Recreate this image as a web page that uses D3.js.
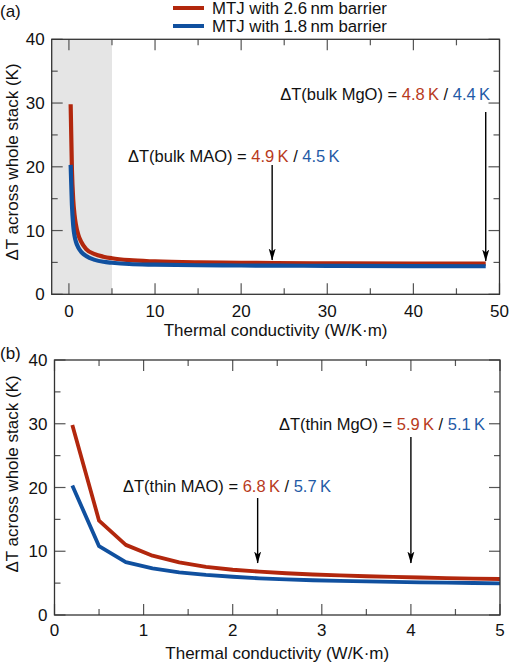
<!DOCTYPE html>
<html><head><meta charset="utf-8">
<script src="https://cdn.jsdelivr.net/npm/d3@7"></script>
<style>body{margin:0;background:#fff}svg{display:block;font-family:"Liberation Sans",Arial,sans-serif}</style>
</head><body>
<svg id="c" width="509" height="663"></svg>
<script>
// ---- data ----
const seriesNames = ["MTJ with 2.6\u2009nm barrier", "MTJ with 1.8\u2009nm barrier"];
const seriesColors = ["#b2270d", "#10509f"];
// panel (a): bulk, 0-50 W/K·m
const kA = [0.2, 0.35, 0.5, 0.65, 0.8, 1.1, 1.4, 2, 3, 4, 5, 7, 10, 15, 20, 24, 30, 40, 48.4];
const dtA_26 = [29.8, 19.5, 14.8, 12.5, 11.0, 9.3, 8.3, 7.1, 6.3, 5.9, 5.65, 5.35, 5.15, 5.0, 4.95, 4.9, 4.86, 4.82, 4.8];
const dtA_18 = [20.3, 14.0, 10.8, 9.2, 8.3, 7.3, 6.7, 6.0, 5.4, 5.1, 4.95, 4.75, 4.65, 4.56, 4.52, 4.5, 4.46, 4.42, 4.4];
// panel (b): thin film, 0-5 W/K·m
const kB = [0.2, 0.5, 0.8, 1.1, 1.4, 1.7, 2.0, 2.3, 2.6, 2.9, 3.2, 3.5, 3.8, 4.1, 4.4, 4.7, 5.0];
const dtB_26 = [29.8, 14.8, 11.0, 9.3, 8.25, 7.55, 7.1, 6.8, 6.55, 6.35, 6.2, 6.08, 5.97, 5.88, 5.8, 5.72, 5.65];
const dtB_18 = [20.3, 10.8, 8.3, 7.3, 6.7, 6.3, 6.0, 5.75, 5.58, 5.45, 5.35, 5.27, 5.2, 5.13, 5.07, 5.02, 4.97];
const xTicksA = [0, 10, 20, 30, 40, 50];
const xTicksB = [0, 1, 2, 3, 4, 5];
const yTicks = [0, 10, 20, 30, 40];
const annotA = [
  {label: "ΔT(bulk MgO) = ", v1: "4.8\u2009K", v2: "4.4\u2009K", k: 48.4},
  {label: "ΔT(bulk MAO) = ", v1: "4.9\u2009K", v2: "4.5\u2009K", k: 23.6}
];
const annotB = [
  {label: "ΔT(thin MgO) = ", v1: "5.9\u2009K", v2: "5.1\u2009K", k: 4.0},
  {label: "ΔT(thin MAO) = ", v1: "6.8\u2009K", v2: "5.7\u2009K", k: 2.28}
];
const xTitle = "Thermal conductivity (W/K·m)";
const yTitle = "ΔT across whole stack (K)";

const svg = d3.select("#c");
const defs = svg.append("defs");
defs.append("marker").attr("id","ah").attr("viewBox","0 0 12 8").attr("refX",11.5).attr("refY",4)
  .attr("markerWidth",12).attr("markerHeight",8).attr("markerUnits","userSpaceOnUse").attr("orient","auto")
  .append("path").attr("d","M0,0.5 L12,4 L0,7.5 L3,4 Z").attr("fill","#000");

function panel(o) {
  const g = svg.append("g");
  const x = d3.scaleLinear().domain(o.xdom).range([o.left, o.right]);
  const y = d3.scaleLinear().domain([0, 40]).range([o.bottom, o.top]);
  if (o.shade) {
    g.append("rect").attr("x", x(o.xdom[0])).attr("y", y(40)).attr("width", x(o.shade) - x(o.xdom[0]))
      .attr("height", y(0) - y(40)).attr("fill", "#e5e5e5");
  }
  const minorX = d3.range(o.xdom[0] < 0 ? 0 : o.xdom[0], o.xdom[1] + 1e-9, o.minorStep);
  const minorY = d3.range(0, 40.01, 5);
  const tk = "#555";
  minorX.forEach(v => {
    const major = o.xticks.some(t => Math.abs(t - v) < 1e-9);
    const L = major ? 11 : 6;
    g.append("line").attr("x1", x(v)).attr("x2", x(v)).attr("y1", y(0)).attr("y2", y(0) - L).attr("stroke", tk).attr("stroke-width", 1.2);
    g.append("line").attr("x1", x(v)).attr("x2", x(v)).attr("y1", y(40)).attr("y2", y(40) + L).attr("stroke", tk).attr("stroke-width", 1.2);
  });
  minorY.forEach(v => {
    const L = v % 10 === 0 ? 11 : 6;
    g.append("line").attr("x1", o.left).attr("x2", o.left + L).attr("y1", y(v)).attr("y2", y(v)).attr("stroke", tk).attr("stroke-width", 1.2);
    g.append("line").attr("x1", o.right).attr("x2", o.right - L).attr("y1", y(v)).attr("y2", y(v)).attr("stroke", tk).attr("stroke-width", 1.2);
  });
  g.selectAll(".xl").data(o.xticks).join("text").attr("x", d => x(d)).attr("y", y(0) + o.xlabOff)
    .attr("text-anchor", "middle").attr("font-size", 17).attr("fill", "#111").text(d => d);
  g.selectAll(".yl").data(yTicks).join("text").attr("x", o.left - 7).attr("y", d => y(d) + 6)
    .attr("text-anchor", "end").attr("font-size", 17).attr("fill", "#111").text(d => d);
  g.append("text").attr("x", (o.left + o.right) / 2 + o.xtShift).attr("y", y(0) + o.xtOff).attr("text-anchor", "middle")
    .attr("font-size", 17).attr("fill", "#111").text(xTitle);
  g.append("text").attr("transform", `translate(${o.ytX},${o.ytY}) rotate(-90)`).attr("text-anchor", "middle")
    .attr("font-size", 17).attr("fill", "#111").text(yTitle);
  g.append("text").attr("x", 0).attr("y", o.tagY).attr("font-size", 17).attr("fill", "#111").text(o.tag);
  const line = d3.line().x(d => x(d[0])).y(d => y(d[1])).curve(o.curve);
  [o.s1, o.s2].forEach((s, i) => {
    g.append("path").datum(o.k.map((k, j) => [k, s[j]])).attr("d", line).attr("fill", "none")
      .attr("stroke", seriesColors[i]).attr("stroke-width", o.lw).attr("stroke-linejoin", "round");
  });
  g.append("rect").attr("x", o.left).attr("y", o.top).attr("width", o.right - o.left).attr("height", o.bottom - o.top)
    .attr("fill", "none").attr("stroke", "#333").attr("stroke-width", 1.3);
  o.annots.forEach((a, i) => {
    const p = o.annPos[i];
    const t = g.append("text").attr("x", p.tx).attr("y", p.ty).attr("font-size", 16.5).attr("fill", "#111")
      .attr("text-anchor", p.anchor);
    t.append("tspan").text(a.label);
    t.append("tspan").attr("fill", "#b8391b").text(a.v1);
    t.append("tspan").text(" / ");
    t.append("tspan").attr("fill", "#1f5aa6").text(a.v2);
    g.append("line").attr("x1", x(a.k)).attr("x2", x(a.k)).attr("y1", p.y1).attr("y2", p.y2)
      .attr("stroke", "#000").attr("stroke-width", 1.4).attr("marker-end", "url(#ah)");
  });
}

panel({xdom: [-2, 50], left: 51.7, right: 499.5, top: 39.3, bottom: 294.3, shade: 5, minorStep: 5,
  xticks: xTicksA, xlabOff: 23, xtOff: 42, xtShift: 0, ytX: 18, ytY: 162, tagY: 17, tag: "(a)",
  k: kA, s1: dtA_26, s2: dtA_18, lw: 4.2, curve: d3.curveMonotoneX, annots: annotA,
  annPos: [{tx: 490, ty: 100, anchor: "end", y1: 112, y2: 261}, {tx: 128, ty: 162, anchor: "start", y1: 165, y2: 260}]});

panel({xdom: [0, 5], left: 54.5, right: 500, top: 360, bottom: 615, shade: null, minorStep: 0.5,
  xticks: xTicksB, xlabOff: 21, xtOff: 44, xtShift: 0, ytX: 18, ytY: 474, tagY: 359, tag: "(b)",
  k: kB, s1: dtB_26, s2: dtB_18, lw: 3.8, curve: d3.curveLinear, annots: annotB,
  annPos: [{tx: 485, ty: 430, anchor: "end", y1: 437, y2: 563}, {tx: 123, ty: 492, anchor: "start", y1: 498, y2: 563}]});

const leg = svg.append("g");
seriesNames.forEach((n, i) => {
  const yy = 8 + i * 18;
  leg.append("line").attr("x1", 173).attr("x2", 204).attr("y1", yy).attr("y2", yy).attr("stroke", seriesColors[i]).attr("stroke-width", 4);
  leg.append("text").attr("x", 212).attr("y", yy + 6).attr("font-size", 16.8).attr("fill", "#111").text(n);
});
</script>
</body></html>
